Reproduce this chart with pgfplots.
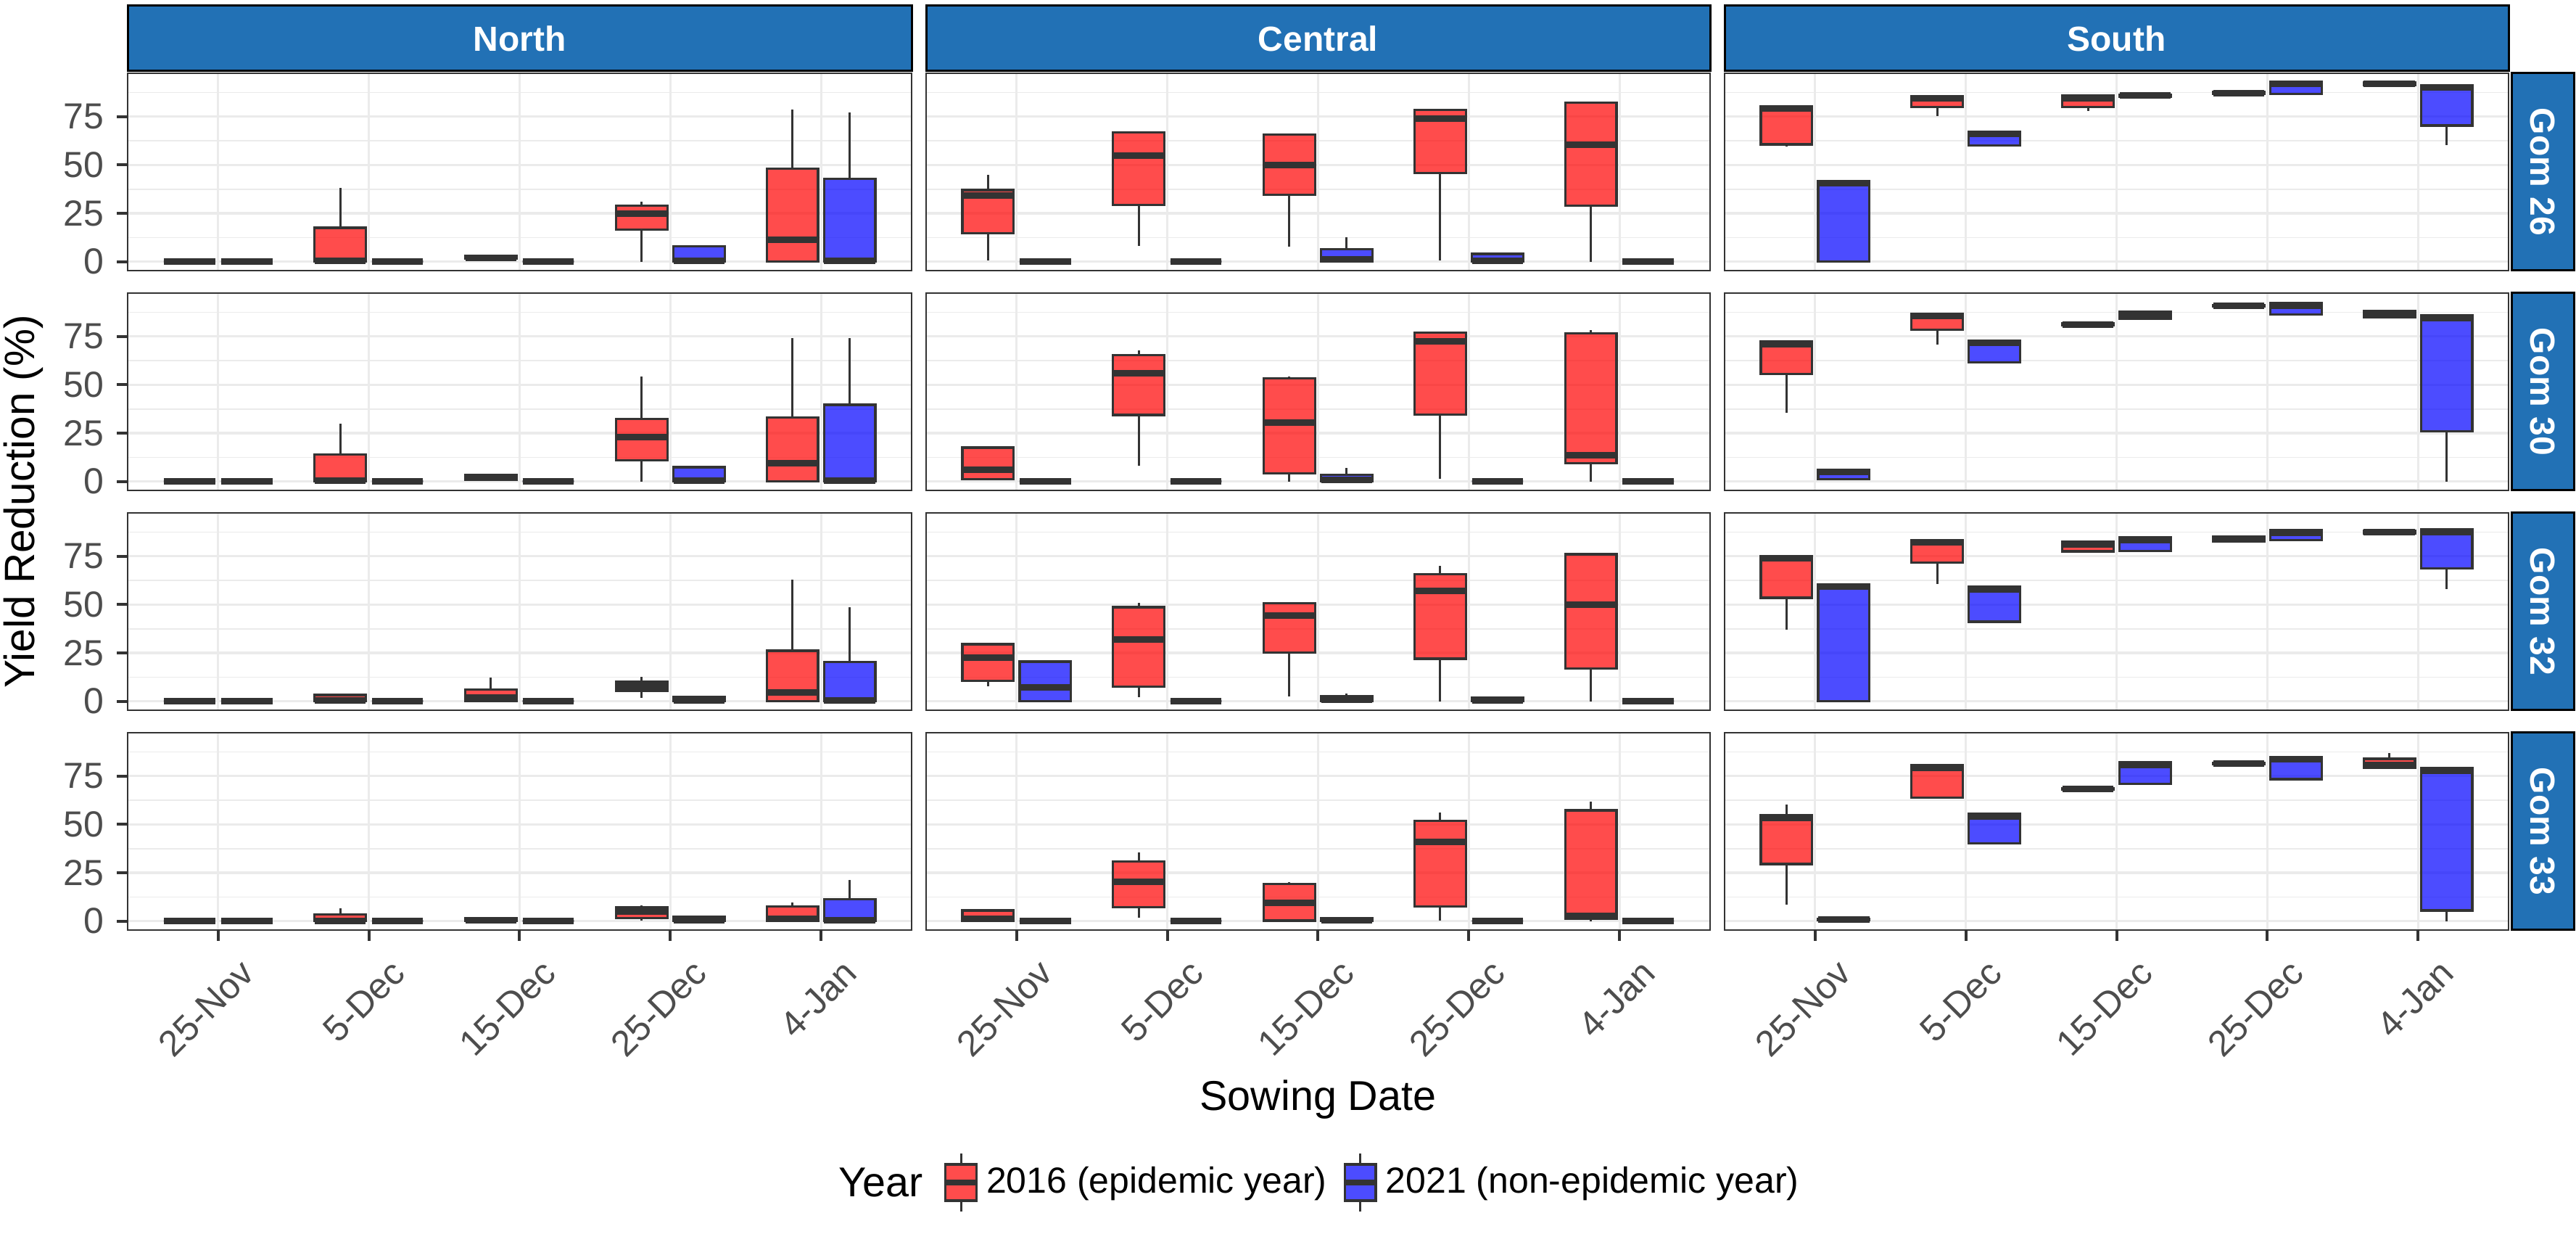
\documentclass[border=0pt]{standalone}
\usepackage{fontspec}
\setmainfont{Liberation Sans}
\usepackage{pgfplots}
\pgfplotsset{compat=1.18}
\usepgfplotslibrary{statistics}
\definecolor{grey20}{HTML}{333333}
\definecolor{grey30}{HTML}{4D4D4D}
\definecolor{gridc}{HTML}{EBEBEB}
\definecolor{stripc}{HTML}{2271B5}
\pgfplotsset{
  panel/.style={
    scale only axis, width=216.2pt, height=54.4pt, anchor=south west,
    xmin=0.4, xmax=5.6, ymin=-4.6, ymax=97.4,
    xtick={1,2,3,4,5}, ytick={0,25,50,75},
    minor ytick={12.5,37.5,62.5,87.5},
    grid=both,
    major grid style={draw=gridc, line width=0.65pt},
    minor grid style={draw=gridc, line width=0.32pt},
    axis line style={draw=grey20, line width=0.55pt},
    tick align=outside, major tick length=3pt, minor tick length=0pt,
    xtick pos=left, ytick pos=left,
    tick style={draw=grey20, line width=0.8pt},
    xticklabels={}, yticklabels={},
    ticklabel style={font=\fontsize{10}{12}\selectfont, text=grey30},
    /pgf/number format/assume math mode=true,
  },
  noxt/.style={xtick style={draw=none}},
  noyt/.style={ytick style={draw=none}},
  ylab/.style={yticklabels={0,25,50,75}},
  xlab/.style={xticklabels={25-Nov,5-Dec,15-Dec,25-Dec,4-Jan},
    xticklabel style={xshift=5.6pt, yshift=-4.4pt, rotate=45, anchor=north east, inner sep=0pt}},
  bxs/.style={boxplot/draw direction=y, draw=grey20, fill=#1, fill opacity=0.7,
    line width=0.65pt, boxplot/box extend=0.34, boxplot/whisker extend=0,
    boxplot/every median/.style={line width=1.8pt},
    boxplot/every whisker/.style={line width=0.6pt}},
}
\newcommand{\bp}[7]{\addplot[bxs=#1, boxplot prepared={draw position=#2, lower whisker=#3, lower quartile=#4, median=#5, upper quartile=#6, upper whisker=#7}] coordinates {};}
\newcommand{\R}[6]{\bp{red}{#1-0.19}{#2}{#3}{#4}{#5}{#6}}
\newcommand{\B}[6]{\bp{blue}{#1+0.19}{#2}{#3}{#4}{#5}{#6}}
\newcommand{\keyimg}[1]{\addlegendimage{legend image code/.code={
  \draw[grey20, line width=0.6pt] (4.25pt,5pt)--(4.25pt,8pt);
  \draw[grey20, line width=0.6pt] (4.25pt,-5pt)--(4.25pt,-8pt);
  \draw[grey20, fill=#1, fill opacity=0.7, line width=0.65pt] (0pt,-5pt) rectangle (8.5pt,5pt);
  \draw[grey20, line width=1.5pt] (0pt,0pt)--(8.5pt,0pt);}}}
\begin{document}
\begin{tikzpicture}
\useasboundingbox (0,0) rectangle (710.4pt,342.4pt);
% ---------------- Row 1 : Gom 26
\begin{axis}[panel, at={(35.2pt,267.8pt)}, noxt, ylab]
\R{1}{0}{0}{0}{0}{0} \B{1}{0}{0}{0}{0}{0}
\R{2}{0}{0}{0.5}{17.5}{38} \B{2}{0}{0}{0}{0}{0}
\R{3}{1}{1.5}{2}{3}{3} \B{3}{0}{0}{0}{0}{0}
\R{4}{0}{16.5}{25}{29}{31} \B{4}{0}{0}{0.5}{8}{8.7}
\R{5}{0}{0}{11.2}{48.2}{78.8} \B{5}{0}{0}{0.5}{42.7}{77}
\end{axis}
\begin{axis}[panel, at={(255.4pt,267.8pt)}, noxt, noyt]
\R{1}{0.6}{14.7}{34.2}{37}{45} \B{1}{0}{0}{0}{0}{0}
\R{2}{8.3}{29.3}{54.8}{66.9}{66.9} \B{2}{0}{0}{0}{0}{0}
\R{3}{7.8}{34.5}{50}{65.8}{65.8} \B{3}{0}{0}{1.2}{6.5}{12.7}
\R{4}{0.6}{45.8}{74.1}{78.5}{78.6} \B{4}{0}{0}{0.3}{4}{4}
\R{5}{0}{28.9}{60.4}{82.2}{82.2} \B{5}{0}{0}{0}{0}{0}
\end{axis}
\begin{axis}[panel, at={(475.6pt,267.8pt)}, noxt, noyt]
\R{1}{59.4}{60.6}{79.3}{80.3}{80.3} \B{1}{0}{0}{40.5}{41.7}{41.7}
\R{2}{75.2}{80}{84.3}{85.6}{85.6} \B{2}{60.1}{60.1}{66}{67.2}{67.2}
\R{3}{77.8}{80}{84.3}{86}{86} \B{3}{85.2}{85.2}{85.8}{86.4}{86.4}
\R{4}{86.8}{86.8}{87.2}{87.6}{87.6} \B{4}{86.8}{86.8}{91.9}{93.2}{93.2}
\R{5}{91.4}{91.4}{92}{92.6}{92.6} \B{5}{60.1}{70.4}{90}{91.3}{91.3}
\end{axis}
% ---------------- Row 2 : Gom 30
\begin{axis}[panel, at={(35.2pt,207.2pt)}, noxt, ylab]
\R{1}{0}{0}{0}{0}{0} \B{1}{0}{0}{0}{0}{0}
\R{2}{0}{0}{0.5}{14}{29.8} \B{2}{0}{0}{0}{0}{0}
\R{3}{0.5}{1}{2}{3.5}{3.8} \B{3}{0}{0}{0}{0}{0}
\R{4}{0}{10.9}{23.1}{32.3}{54.4} \B{4}{0}{0}{0.5}{7.4}{7.9}
\R{5}{0}{0}{9.4}{33.1}{74.1} \B{5}{0}{0}{0.5}{39.6}{74.1}
\end{axis}
\begin{axis}[panel, at={(255.4pt,207.2pt)}, noxt, noyt]
\R{1}{0.6}{1.3}{6}{17.5}{18.4} \B{1}{0}{0}{0}{0}{0}
\R{2}{8.1}{34.4}{56}{65.3}{67.9} \B{2}{0}{0}{0}{0}{0}
\R{3}{0}{4.1}{30.3}{53.4}{54.4} \B{3}{0}{0}{1}{3.5}{6.9}
\R{4}{1.3}{34.6}{72.5}{76.9}{77.3} \B{4}{0}{0}{0}{0}{0}
\R{5}{0}{9.4}{13.4}{76.6}{78.1} \B{5}{0}{0}{0}{0}{0}
\end{axis}
\begin{axis}[panel, at={(475.6pt,207.2pt)}, noxt, noyt]
\R{1}{35.4}{55.6}{71}{72.3}{72.3} \B{1}{0.6}{1.2}{4.8}{6}{6}
\R{2}{70.9}{78.5}{85.4}{86.6}{86.6} \B{2}{61.5}{61.5}{71.6}{72.9}{72.9}
\R{3}{80.6}{80.6}{81.1}{81.6}{81.6} \B{3}{84}{84}{85.8}{87.6}{87.6}
\R{4}{90.5}{90.5}{90.9}{91.3}{91.3} \B{4}{86.3}{86.3}{90.9}{92.2}{92.2}
\R{5}{85}{85}{86.5}{88}{88} \B{5}{0}{25.9}{84.6}{85.9}{85.9}
\end{axis}
% ---------------- Row 3 : Gom 32
\begin{axis}[panel, at={(35.2pt,146.6pt)}, noxt, ylab]
\R{1}{0}{0}{0}{0}{0} \B{1}{0}{0}{0}{0}{0}
\R{2}{0}{0}{0.4}{3.3}{3.5} \B{2}{0}{0}{0}{0}{0}
\R{3}{0}{0}{1.9}{6.2}{12.1} \B{3}{0}{0}{0}{0}{0}
\R{4}{1.9}{5.4}{7.5}{10}{12.8} \B{4}{0}{0}{0.5}{2.2}{2.2}
\R{5}{0}{0}{4.4}{26.1}{62.9} \B{5}{0}{0}{0.5}{20.2}{48.8}
\end{axis}
\begin{axis}[panel, at={(255.4pt,146.6pt)}, noxt, noyt]
\R{1}{7.8}{10.5}{22.4}{29.5}{29.5} \B{1}{0}{0}{7.1}{20.5}{21.2}
\R{2}{2.2}{7.5}{31.8}{48.6}{51} \B{2}{0}{0}{0}{0}{0}
\R{3}{2.7}{25.3}{44.5}{50.7}{51.3} \B{3}{0}{0}{0.8}{2.7}{4.2}
\R{4}{0}{22}{57}{65.8}{70} \B{4}{0}{0}{0.5}{1.9}{1.9}
\R{5}{0}{17}{49.8}{76}{76.6} \B{5}{0}{0}{0}{0}{0}
\end{axis}
\begin{axis}[panel, at={(475.6pt,146.6pt)}, noxt, noyt]
\R{1}{37.1}{53.5}{73.9}{75.1}{75.1} \B{1}{0}{0}{59.2}{60.4}{60.4}
\R{2}{60.6}{71.6}{82.2}{83.4}{83.4} \B{2}{41.1}{41.1}{57.9}{59.2}{59.2}
\R{3}{77.5}{77.5}{81.1}{82.4}{82.4} \B{3}{77.6}{77.6}{83.4}{84.7}{84.7}
\R{4}{82.5}{82.5}{83.8}{85}{85} \B{4}{83.2}{83.2}{87.2}{88.4}{88.4}
\R{5}{86.6}{86.6}{87.3}{88}{88} \B{5}{57.9}{68.7}{87.5}{88.8}{88.8}
\end{axis}
% ---------------- Row 4 : Gom 33
\begin{axis}[panel, at={(35.2pt,86pt)}, xlab, ylab]
\R{1}{0}{0}{0}{0}{0} \B{1}{0}{0}{0}{0}{0}
\R{2}{0}{0}{0.2}{3.4}{6.5} \B{2}{0}{0}{0}{0}{0}
\R{3}{0}{0}{0.5}{1.5}{1.5} \B{3}{0}{0}{0}{0}{0}
\R{4}{0.3}{1.5}{4.9}{7.1}{8} \B{4}{0}{0}{0.5}{2.3}{2.3}
\R{5}{0}{0}{1.2}{7.7}{9.8} \B{5}{0}{0}{0.5}{11.2}{21.4}
\end{axis}
\begin{axis}[panel, at={(255.4pt,86pt)}, xlab, noyt,
  legend columns=2,
  legend style={at={(axis description cs:0.0065,-1.279)}, anchor=west, draw=none, fill=none,
    font=\fontsize{10}{12}\selectfont, /tikz/every even column/.append style={column sep=2.2pt}}]
\keyimg{red}
\addlegendentry{2016 (epidemic year)}
\keyimg{blue}
\addlegendentry{2021 (non-epidemic year)}
\R{1}{0}{0}{1.2}{5.5}{5.8} \B{1}{0}{0}{0}{0}{0}
\R{2}{1.9}{7.1}{20.5}{30.8}{35.5} \B{2}{0}{0}{0}{0}{0}
\R{3}{0.3}{0.3}{9.6}{19.3}{20.2} \B{3}{0}{0}{0.5}{1.5}{1.5}
\R{4}{0.3}{7.5}{41.1}{51.9}{56} \B{4}{0}{0}{0}{0}{0}
\R{5}{0}{1.1}{2.6}{57.3}{61.9} \B{5}{0}{0}{0}{0}{0}
\end{axis}
\begin{axis}[panel, at={(475.6pt,86pt)}, xlab, noyt]
\R{1}{8.6}{29.5}{53.5}{54.8}{60.3} \B{1}{0.5}{0.5}{0.9}{1.3}{1.3}
\R{2}{63.8}{63.8}{79.3}{80.6}{80.6} \B{2}{40.3}{40.3}{54.2}{55.4}{55.4}
\R{3}{68}{68}{68.4}{68.8}{68.8} \B{3}{70.9}{70.9}{80.8}{82.2}{82.2}
\R{4}{81}{81}{81.4}{81.8}{81.8} \B{4}{73.4}{73.4}{83.7}{84.9}{84.9}
\R{5}{79.1}{79.1}{80.6}{83.9}{86.8} \B{5}{0}{5.5}{77.7}{79}{79}
\end{axis}
% ---------------- strips
\tikzset{strip/.style={fill=stripc, draw=black, line width=0.6pt},
  striptext/.style={text=white, font=\bfseries\fontsize{9.6}{11}\selectfont, inner sep=0pt}}
\draw[strip] (35.2pt,322.8pt) rectangle (251.4pt,340.8pt);
\node[striptext] at (143.3pt,331.8pt) {North};
\draw[strip] (255.4pt,322.8pt) rectangle (471.6pt,340.8pt);
\node[striptext] at (363.5pt,331.8pt) {Central};
\draw[strip] (475.6pt,322.8pt) rectangle (691.8pt,340.8pt);
\node[striptext] at (583.7pt,331.8pt) {South};
\draw[strip] (692.6pt,267.8pt) rectangle (709.8pt,322.2pt);
\node[striptext, rotate=-90] at (701.2pt,295pt) {Gom 26};
\draw[strip] (692.6pt,207.2pt) rectangle (709.8pt,261.6pt);
\node[striptext, rotate=-90] at (701.2pt,234.4pt) {Gom 30};
\draw[strip] (692.6pt,146.6pt) rectangle (709.8pt,201pt);
\node[striptext, rotate=-90] at (701.2pt,173.8pt) {Gom 32};
\draw[strip] (692.6pt,86pt) rectangle (709.8pt,140.4pt);
\node[striptext, rotate=-90] at (701.2pt,113.2pt) {Gom 33};
% ---------------- titles
\node[rotate=90, font=\fontsize{11.7}{14}\selectfont] at (6.5pt,204.1pt) {Yield Reduction (\%)};
\node[font=\fontsize{11.5}{14}\selectfont] at (363.5pt,39.2pt) {Sowing Date};
\node[anchor=west, font=\fontsize{11.5}{14}\selectfont, inner sep=0pt] at (231pt,16.4pt) {Year};
\end{tikzpicture}
\end{document}
